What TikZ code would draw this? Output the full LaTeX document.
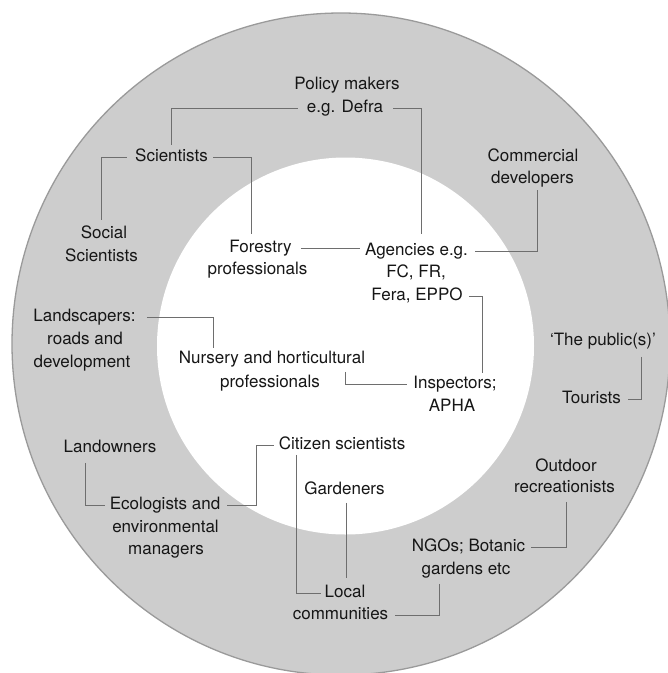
\documentclass[tikz,border=0pt]{standalone}
\usepackage{fontspec}
\setmainfont{TeX Gyre Heros}
\usetikzlibrary{calc}

\definecolor{ringgrey}{HTML}{CDCDCD}
\definecolor{ringedge}{HTML}{9A9A9A}
\definecolor{linkgrey}{HTML}{6E6E6E}
\definecolor{inkgrey}{HTML}{161616}

\tikzset{
  lbl/.style={inner sep=0pt, text height=12pt, text depth=3.5pt,
              text=inkgrey, font=\fontsize{17}{22}\selectfont},
  link/.style={draw=linkgrey, line width=1pt},
}

\begin{document}
\begin{tikzpicture}[x=1pt, y=-1pt]
  \useasboundingbox (0,0) rectangle (668,673);
  \fill[white] (0,0) rectangle (668,673);
  \clip (0,0) rectangle (668,673);

  % outer ring and inner core
  \filldraw[fill=ringgrey, draw=ringedge, line width=1.3pt]
    (341,344) ellipse [x radius=329pt, y radius=331pt];
  \fill[white] (345.5,346) circle [radius=188.5pt];

  % labels
  \node[lbl] (pol1) at (347,85)  {Policy makers};
  \node[lbl] (pol2) at (345,108) {e.g. Defra};
  \node[lbl] (sci)  at (171.5,157) {Scientists};
  \node[lbl] (com1) at (533,157) {Commercial};
  \node[lbl] (com2) at (532.5,179) {developers};
  \node[lbl] (soc1) at (104,234) {Social};
  \node[lbl] (soc2) at (101.5,257) {Scientists};
  \node[lbl] (for1) at (260.5,248) {Forestry};
  \node[lbl] (for2) at (257.5,270) {professionals};
  \node[lbl] (ag1)  at (416.5,251) {Agencies e.g.};
  \node[lbl] (ag2)  at (416,273) {FC, FR,};
  \node[lbl] (ag3)  at (417,296) {Fera, EPPO};
  \node[lbl] (lsc1) at (84.5,317) {Landscapers:};
  \node[lbl] (lsc2) at (85,340)  {roads and};
  \node[lbl] (lsc3) at (82,363)  {development};
  \node[lbl] (nur1) at (272,359) {Nursery and horticultural};
  \node[lbl] (nur2) at (270,383) {professionals};
  \node[lbl] (ins1) at (455,384) {Inspectors;};
  \node[lbl] (ins2) at (452,407) {APHA};
  \node[lbl] (pub)  at (603,341) {‘The public(s)’};
  \node[lbl] (tour) at (591.5,399) {Tourists};
  \node[lbl] (lown) at (110,448) {Landowners};
  \node[lbl] (cit)  at (342,445) {Citizen scientists};
  \node[lbl] (out1) at (566,467) {Outdoor};
  \node[lbl] (out2) at (564.5,488) {recreationists};
  \node[lbl] (gard) at (344.5,490) {Gardeners};
  \node[lbl] (eco1) at (165,505) {Ecologists and};
  \node[lbl] (eco2) at (165.5,528) {environmental};
  \node[lbl] (eco3) at (166,550) {managers};
  \node[lbl] (ngo1) at (468.5,547) {NGOs; Botanic};
  \node[lbl] (ngo2) at (466,570) {gardens etc};
  \node[lbl] (loc1) at (345,593) {Local};
  \node[lbl] (loc2) at (340.5,615) {communities};

  % connectors
  \draw[link] ([xshift=-9pt]pol2.west) -| ([yshift=4pt]sci.north);
  \draw[link] ([xshift=10pt]pol2.east) -| ([shift={(4.5pt,9pt)}]ag1.north);
  \draw[link] ([xshift=-8pt]sci.west) -| ([shift={(-3pt,6pt)}]soc1.north);
  \draw[link] ([xshift=5pt]sci.east) -| ([shift={(-9.5pt,6pt)}]for1.north);
  \draw[link] ([xshift=9pt]for1.east) -- ($(for1.east -| ag1.west)+(-5pt,0)$);
  \draw[link] ([xshift=7pt]ag1.east) -| ([shift={(4.5pt,-3pt)}]com2.south);
  \draw[link] ([xshift=6pt]ag3.east) -| ([shift={(27pt,3pt)}]ins1.north);
  \draw[link] ([xshift=11pt]lsc1.east) -| ([shift={(-59pt,3pt)}]nur1.north);
  \draw[link] ([shift={(73pt,-5pt)}]nur1.south) |- ([xshift=-6pt]ins1.west);
  \draw[link] ([shift={(38pt,-8pt)}]pub.south) |- ([xshift=7pt]tour.east);
  \draw[link] ([shift={(-25pt,-7pt)}]lown.south) |- ([xshift=-5pt]eco1.west);
  \draw[link] ([xshift=7pt]eco1.east) -- ++(29pt,0) |- ([xshift=-5pt]cit.west);
  \draw[link] ([shift={(-46pt,-2pt)}]cit.south) |- ([xshift=-3pt]loc1.west);
  \draw[link] ([shift={(1.5pt,-5pt)}]gard.south) -- ($(gard.south |- loc1.north)+(1.5pt,7pt)$);
  \draw[link] ([shift={(1.5pt,-6pt)}]out2.south) |- ([xshift=6pt]ngo1.east);
  \draw[link] ([shift={(-27pt,-6pt)}]ngo2.south) |- ([xshift=7pt]loc2.east);
\end{tikzpicture}
\end{document}
